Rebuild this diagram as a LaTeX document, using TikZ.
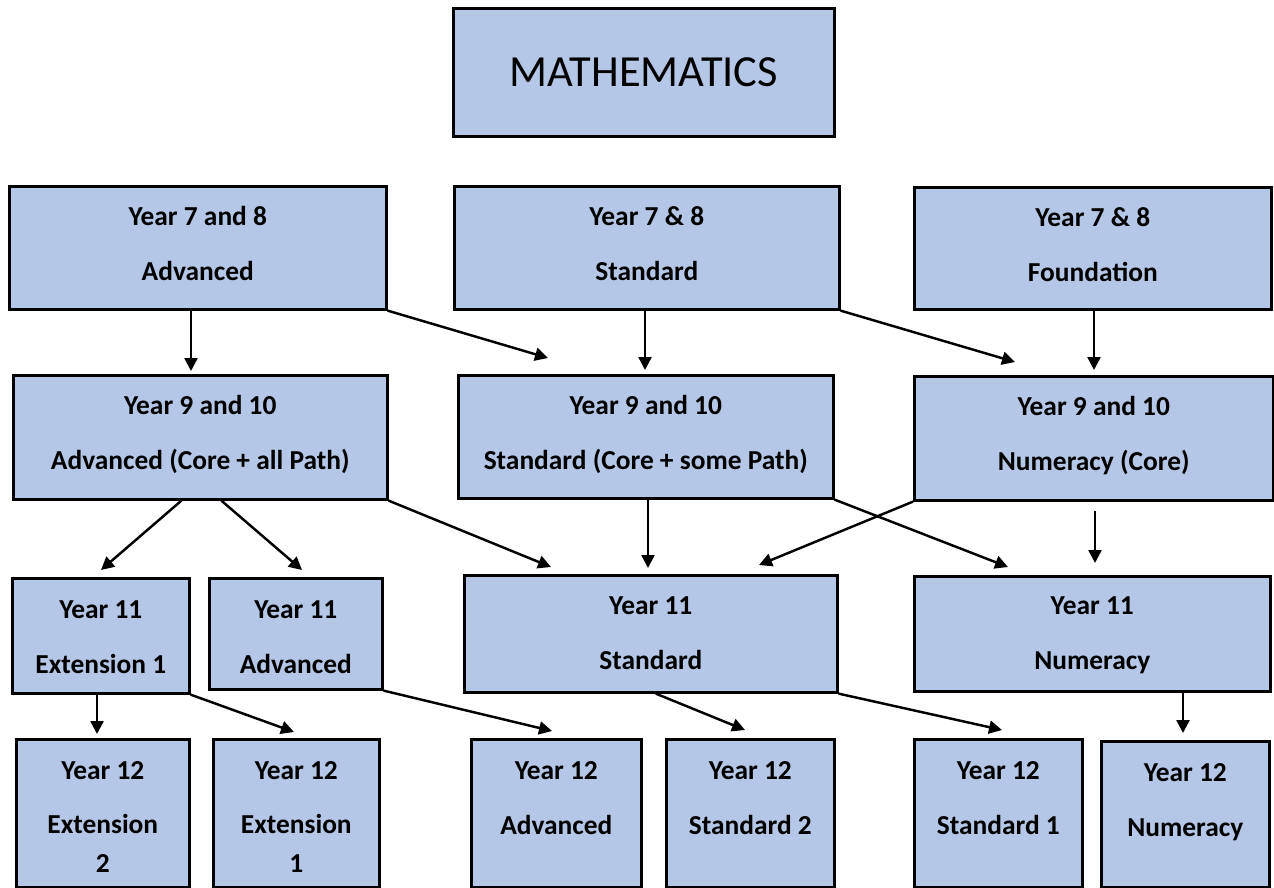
\documentclass[tikz,border=0pt]{standalone}
\usepackage{fontspec}
\setmainfont{Carlito}
\usetikzlibrary{arrows.meta,calc}
\definecolor{boxblue}{RGB}{180,199,231}
\tikzset{
  box/.style={draw=black, line width=1.5pt, fill=boxblue, anchor=north west,
    inner xsep=0pt, inner ysep=0pt, align=center, text height=1.88cm,
    font=\fontsize{15.6}{31}\selectfont\bfseries},
  arr/.style={-{Triangle[length=0.26cm,width=0.26cm]}, line width=1.4pt}
}
\begin{document}
\begin{tikzpicture}[x=0.02cm,y=-0.02cm]
\useasboundingbox (0,0) rectangle (1274,888);

\node[box, minimum width=7.62cm, text height=1.56cm, text depth=1.0cm,
  font=\fontsize{25.3}{30}\selectfont] (math) at (452,7) {MATHEMATICS};

\node[box, minimum width=7.54cm, text depth=0.58cm] (a78) at (8,185) {Year 7 and 8\\Advanced};
\node[box, minimum width=7.70cm, text depth=0.58cm] (s78) at (453,185) {Year 7 \& 8\\Standard};
\node[box, minimum width=7.14cm, text depth=0.56cm] (f78) at (913,186) {Year 7 \& 8\\Foundation};

\node[box, minimum width=7.48cm, text depth=0.60cm] (a910) at (12,374) {Year 9 and 10\\Advanced (Core + all Path)};
\node[box, minimum width=7.50cm, text depth=0.58cm] (s910) at (457,374) {Year 9 and 10\\Standard (Core + some Path)};
\node[box, minimum width=7.18cm, text depth=0.60cm] (n910) at (913,375) {Year 9 and 10\\Numeracy (Core)};

\node[box, minimum width=3.54cm, text height=1.90cm, text depth=0.40cm] (e11) at (11,577) {Year 11\\Extension 1};
\node[box, minimum width=3.46cm, text height=1.90cm, text depth=0.32cm] (a11) at (208,577) {Year 11\\Advanced};
\node[box, minimum width=7.46cm, text depth=0.46cm] (s11) at (463,574) {Year 11\\Standard};
\node[box, minimum width=7.12cm, text height=1.86cm, text depth=0.44cm] (n11) at (913,575) {Year 11\\Numeracy};

\node[box, minimum width=3.46cm, text height=2.66cm, text depth=0.31cm] (e12b) at (15,738) {Year 12\\Extension\\[-0.32cm]2};
\node[box, minimum width=3.32cm, text height=2.66cm, text depth=0.31cm] (e12a) at (212,738) {Year 12\\Extension\\[-0.32cm]1};
\node[box, minimum width=3.40cm, text height=1.90cm, text depth=1.07cm] (a12) at (470,738) {Year 12\\Advanced};
\node[box, minimum width=3.36cm, text height=1.90cm, text depth=1.07cm] (s12b) at (665,738) {Year 12\\Standard 2};
\node[box, minimum width=3.36cm, text height=1.90cm, text depth=1.07cm] (s12a) at (913,738) {Year 12\\Standard 1};
\node[box, minimum width=3.36cm, text height=1.90cm, text depth=1.03cm] (n12) at (1100,740) {Year 12\\Numeracy};

\coordinate (t1) at (191,371);
\coordinate (t2) at (548,358);
\coordinate (t3) at (645,370);
\coordinate (t4) at (1015,362);
\coordinate (t5) at (1094,370);
\coordinate (t6) at (101,570);
\coordinate (t7) at (302,570);
\coordinate (t8) at (551,567);
\coordinate (t9) at (648,568);
\coordinate (t10) at (759,565);
\coordinate (t11) at (1008,567);
\coordinate (t12) at (1095,563);
\coordinate (t13) at (97,734);
\coordinate (t14) at (294,732);
\coordinate (t15) at (552,731);
\coordinate (t16) at (745,730);
\coordinate (t17) at (1002,730);
\coordinate (t18) at (1183,733);

\draw[arr] (a78.south -| t1) -- (t1);
\draw[arr] (a78.south east) -- (t2);
\draw[arr] (s78.south -| t3) -- (t3);
\draw[arr] (s78.south east) -- (t4);
\draw[arr] (f78.south -| t5) -- (t5);

\draw[arr] ($(a910.south west)!0.45!(a910.south east)$) -- (t6);
\draw[arr] ($(a910.south west)!0.556!(a910.south east)$) -- (t7);
\draw[arr] (a910.south east) -- (t8);
\draw[arr] (s910.south -| t9) -- (t9);
\draw[arr] (n910.south west) -- (t10);
\draw[arr] (s910.south east) -- (t11);
\draw[arr, shorten <=0.18cm] (n910.south -| t12) -- (t12);

\draw[arr] (e11.south -| t13) -- (t13);
\draw[arr] (e11.south east) -- (t14);
\draw[arr] (a11.south east) -- (t15);
\draw[arr] ($(s11.south)+(5,0)$) -- (t16);
\draw[arr] (s11.south east) -- (t17);
\draw[arr] (n11.south -| t18) -- (t18);
\end{tikzpicture}
\end{document}
